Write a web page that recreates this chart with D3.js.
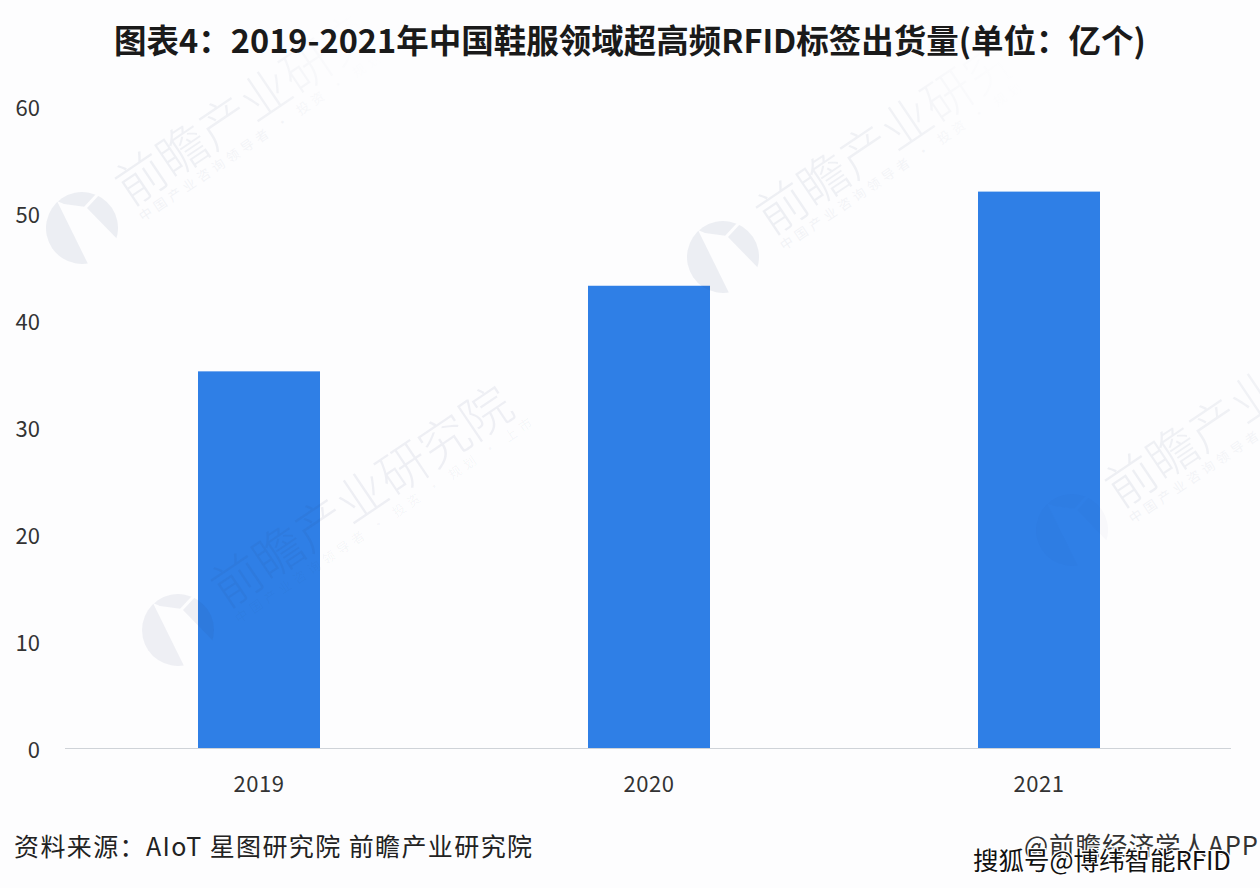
<!DOCTYPE html>
<html>
<head>
<meta charset="utf-8">
<script src="https://cdn.jsdelivr.net/npm/d3@7"></script>
<style>
  html, body { margin: 0; padding: 0; background: #fdfdfe; }
  svg { display: block; }
  text { font-family: "Noto Sans CJK SC", "Noto Sans", sans-serif; }
</style>
</head>
<body>
<div id="chart"></div>
<script>
const years = ["2019", "2020", "2021"];
const shipments = [35.2, 43.2, 52.0];
const yTicks = [0, 10, 20, 30, 40, 50, 60];

const titleText = "图表4：2019-2021年中国鞋服领域超高频RFID标签出货量(单位：亿个)";
const sourceText = "资料来源：AIoT 星图研究院 前瞻产业研究院";
const creditText = "@前瞻经济学人APP";
const stampText = "搜狐号@博纬智能RFID";
const markMain = "前瞻产业研究院";
const markSub = "中国产业咨询领导者 · 投资 · 规划 · 上市";
// logo centre of each watermark, how strong its logo is, whether its text fades out
const markX = [82, 723, 178, 1072];
const markY = [228, 257, 630, 530];
const markLogo = [0.08, 0.08, 0.07, 0.025];
const markFades = [true, true, false, true];

const width = 1260, height = 888;
const markAngle = -34;
const markInk = "#2a3f6e";

const svg = d3.select("#chart").append("svg")
  .attr("width", width)
  .attr("height", height);

svg.append("rect")
  .attr("width", width)
  .attr("height", height)
  .attr("fill", "#fdfdfe");

const defs = svg.append("defs");

const fade = defs.append("linearGradient").attr("id", "fade");
fade.append("stop").attr("offset", "0%").attr("stop-color", markInk).attr("stop-opacity", 0.075);
fade.append("stop").attr("offset", "50%").attr("stop-color", markInk).attr("stop-opacity", 0.06);
fade.append("stop").attr("offset", "72%").attr("stop-color", markInk).attr("stop-opacity", 0.012);
fade.append("stop").attr("offset", "85%").attr("stop-color", markInk).attr("stop-opacity", 0);

// logo cut-outs, drawn upright then turned back against the group's rotation
const logoMask = defs.append("mask")
  .attr("id", "logo-mask")
  .attr("maskUnits", "userSpaceOnUse")
  .attr("x", -40).attr("y", -40).attr("width", 80).attr("height", 80);
logoMask.append("rect")
  .attr("x", -40).attr("y", -40).attr("width", 80).attr("height", 80)
  .attr("fill", "#fff");
const cuts = logoMask.append("g").attr("transform", `rotate(${-markAngle})`);
cuts.append("path")
  .attr("d", "M-25,-27 L-18,-24 L4,-21 L40,16 L8,40 Z")
  .attr("fill", "#000");
cuts.append("path")
  .attr("d", "M3,-20 L16,-34")
  .attr("stroke", "#000")
  .attr("stroke-width", 3);

const x = d3.scaleBand().domain(years).range([64, 1234]);
const y = d3.scaleLinear().domain([0, 60]).range([748, 106]);
const barWidth = 122;

svg.append("text")
  .attr("x", 630)
  .attr("y", 53)
  .attr("text-anchor", "middle")
  .attr("font-size", 32.5)
  .attr("font-weight", 700)
  .attr("fill", "#1a1a1a")
  .text(titleText);

svg.append("g")
  .selectAll("rect")
  .data(years)
  .join("rect")
  .attr("x", d => x(d) + (x.bandwidth() - barWidth) / 2)
  .attr("y", (d, i) => y(shipments[i]))
  .attr("width", barWidth)
  .attr("height", (d, i) => y(0) - y(shipments[i]))
  .attr("fill", "#2f7fe6");

// watermarks sit over the bars, they show faintly on the blue
const marks = svg.append("g")
  .selectAll("g")
  .data(markX)
  .join("g")
  .attr("transform", (d, i) => `translate(${d},${markY[i]}) rotate(${markAngle})`);

marks.append("circle")
  .attr("r", 36)
  .attr("fill", markInk)
  .attr("fill-opacity", (d, i) => markLogo[i])
  .attr("mask", "url(#logo-mask)");

marks.append("text")
  .attr("x", 52)
  .attr("y", 10)
  .attr("font-size", 50)
  .attr("font-weight", 300)
  .attr("fill", (d, i) => markFades[i] ? "url(#fade)" : markInk)
  .attr("fill-opacity", (d, i) => markFades[i] ? 1 : 0.07)
  .text(markMain);

marks.append("text")
  .attr("x", 54)
  .attr("y", 29)
  .attr("font-size", 13)
  .attr("letter-spacing", 4.5)
  .attr("fill", (d, i) => markFades[i] ? "url(#fade)" : markInk)
  .attr("fill-opacity", (d, i) => markFades[i] ? 0.8 : 0.05)
  .text(markSub);

// baseline
const xAxis = svg.append("g")
  .attr("transform", "translate(0,748)")
  .call(d3.axisBottom(x).tickSize(0).tickPadding(28));
xAxis.select(".domain")
  .attr("d", "M65,0.5H1231")
  .attr("stroke", "#cfd3d8");
xAxis.selectAll("text")
  .attr("font-family", "'Open Sans', sans-serif")
  .attr("font-size", 22)
  .attr("fill", "#333")
  .style("letter-spacing", "0.5px");

const yAxis = svg.append("g")
  .attr("transform", "translate(40,2.5)")
  .call(d3.axisLeft(y).tickValues(yTicks).tickSize(0).tickPadding(0));
yAxis.select(".domain").remove();
yAxis.selectAll("text")
  .attr("font-family", "'Open Sans', sans-serif")
  .attr("font-size", 22)
  .attr("fill", "#333");

svg.append("text")
  .attr("x", 14)
  .attr("y", 856)
  .attr("font-size", 25)
  .attr("letter-spacing", 1.4)
  .attr("fill", "#222")
  .text(sourceText);

svg.append("text")
  .attr("x", 1024)
  .attr("y", 855)
  .attr("font-size", 25.5)
  .attr("letter-spacing", 1)
  .attr("fill", "#333")
  .text(creditText);

svg.append("text")
  .attr("x", 973)
  .attr("y", 870)
  .attr("font-size", 25.5)
  .attr("fill", "#111")
  .attr("stroke", "#fff")
  .attr("stroke-width", 2.5)
  .attr("paint-order", "stroke")
  .text(stampText);
</script>
</body>
</html>
